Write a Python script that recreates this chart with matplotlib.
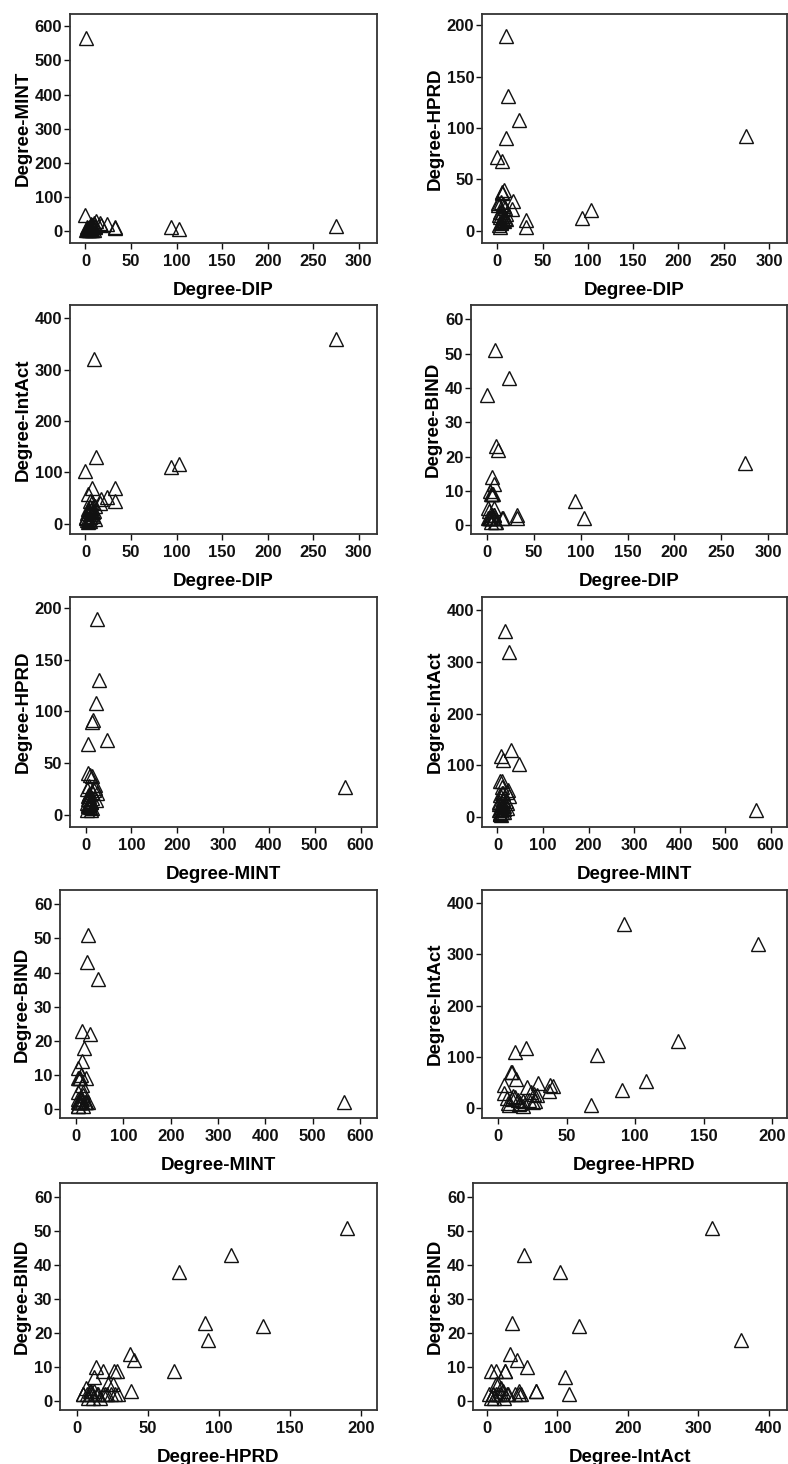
import matplotlib
matplotlib.use('Agg')
import matplotlib.pyplot as plt

plt.rcParams['font.family'] = ['Liberation Sans', 'DejaVu Sans']
plt.rcParams['font.weight'] = 'bold'

# degree of each protein in the five databases (one entry per protein)
dip = [1, 275, 9, 94, 103, 12, 24, 0, 5, 10, 5, 7, 3, 5, 6, 4, 8, 32, 32, 17,
       16, 7, 3, 6, 8, 4, 2, 10, 7, 5, 3, 1, 2, 6, 9, 4]
mint = [567, 17, 25, 12, 8, 30, 23, 47, 6, 13, 13, 5, 10, 5, 20, 8, 15, 10, 12, 20,
        25, 5, 3, 8, 12, 5, 6, 15, 18, 10, 8, 3, 14, 22, 4, 9]
hprd = [27, 92, 190, 12, 20, 131, 108, 72, 68, 90, 37, 40, 13, 18, 26, 28, 22, 10, 4, 29,
        21, 9, 4, 10, 12, 8, 15, 16, 24, 38, 18, 25, 6, 14, 11, 7]
intact = [13, 360, 320, 110, 117, 130, 52, 103, 5, 35, 33, 42, 57, 13, 26, 25, 15, 70, 45, 48,
          40, 70, 28, 18, 22, 5, 8, 10, 30, 45, 3, 12, 20, 16, 24, 9]
bind = [2, 18, 51, 7, 2, 22, 43, 38, 9, 23, 14, 12, 10, 9, 9, 9, 5, 3, 2, 2,
        2, 3, 2, 2, 3, 1, 2, 1, 2, 3, 2, 5, 4, 2, 1, 2]

data = {'DIP': dip, 'MINT': mint, 'HPRD': hprd, 'IntAct': intact, 'BIND': bind}
limits = {'DIP': (-17, 320), 'MINT': (-34, 636), 'HPRD': (-12, 211),
          'IntAct': (-20, 426), 'BIND': (-2.6, 64.2)}
ticks = {'DIP': range(0, 301, 50), 'MINT': range(0, 601, 100), 'HPRD': range(0, 201, 50),
         'IntAct': range(0, 401, 100), 'BIND': range(0, 61, 10)}

pairs = [('DIP', 'MINT'), ('DIP', 'HPRD'),
         ('DIP', 'IntAct'), ('DIP', 'BIND'),
         ('MINT', 'HPRD'), ('MINT', 'IntAct'),
         ('MINT', 'BIND'), ('HPRD', 'IntAct'),
         ('HPRD', 'BIND'), ('IntAct', 'BIND')]

# axes boxes in pixels (left, top, right, bottom)
boxes = [(70, 14, 377, 243), (482, 14, 787, 243),
         (70, 305, 377, 534), (471, 305, 787, 534),
         (70, 597, 377, 827), (482, 597, 787, 827),
         (60, 890, 377, 1118), (482, 890, 787, 1118),
         (60, 1183, 377, 1410), (473, 1183, 787, 1410)]

W, H = 788, 1464
fig = plt.figure(figsize=(W / 100, H / 100), dpi=100)

for (xn, yn), (l, t, r, b) in zip(pairs, boxes):
    ax = fig.add_axes([l / W, 1 - b / H, (r - l) / W, (b - t) / H])
    ax.plot(data[xn], data[yn], linestyle='none', marker='^', markersize=9.5,
            markerfacecolor='none', markeredgecolor='#111111', markeredgewidth=1.0)
    ax.set_xlim(limits[xn])
    ax.set_ylim(limits[yn])
    ax.set_xticks(list(ticks[xn]))
    ax.set_yticks(list(ticks[yn]))
    ax.tick_params(labelsize=12, length=4, width=1, colors='#111111', pad=1.5)
    ax.tick_params(axis='x', pad=4)
    for lab in ax.get_xticklabels() + ax.get_yticklabels():
        lab.set_fontweight('bold')
    ax.set_xlabel('Degree-' + xn, fontsize=13.5, fontweight='bold', labelpad=9)
    ax.set_ylabel('Degree-' + yn, fontsize=13.5, fontweight='bold', labelpad=2)
    for s in ax.spines.values():
        s.set_linewidth(1.3)
        s.set_color('#333333')

fig.savefig('out.png', dpi=100)
